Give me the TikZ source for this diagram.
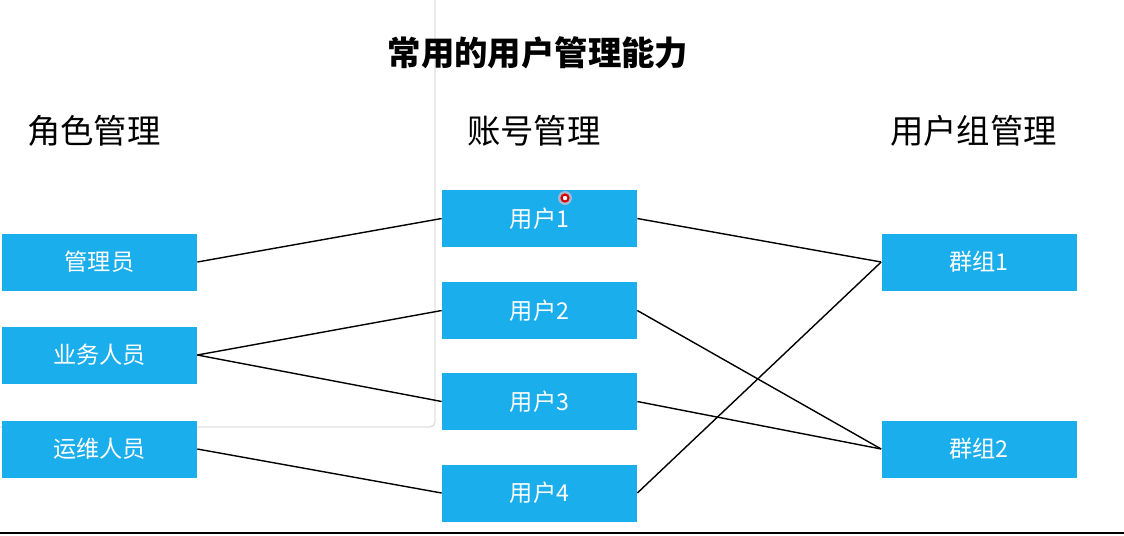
\documentclass[tikz,border=0pt]{standalone}
\usepackage{fontspec}
\setmainfont{Noto Sans CJK SC}
\usetikzlibrary{positioning}

\begin{document}
\begin{tikzpicture}[
    x=0.02cm, y=-0.02cm,
    box/.style={rectangle, fill=boxblue, draw=none, minimum width=3.9cm, minimum height=1.14cm, inner sep=0pt, text=white, font=\fontsize{13.2}{15}\selectfont},
    head/.style={font=\fontsize{19}{22}\selectfont, anchor=west},
    link/.style={draw=black, line width=0.8pt},
]
\definecolor{boxblue}{HTML}{1BAEEC}
\useasboundingbox (0,0) rectangle (1124,535);

% Panel behind the roles
\draw[black!12, line width=0.8pt, rounded corners=3pt] (0,427) -- (435,427) -- (435,0);

% Title and column headings
\node[font=\fontsize{19}{22}\selectfont\bfseries] (title) at (538,53) {常用的用户管理能力};
\node[head] (rolehead) at (21,131) {角色管理};
\node[head] (accthead) at (461,131) {账号管理};
\node[head] (grouphead) at (884,131) {用户组管理};

% Roles
\node[box] (admin) at (99.5,262) {管理员};
\node[box] (biz) at (99.5,355) {业务人员};
\node[box] (ops) at (99.5,449) {运维人员};

% Accounts
\node[box] (user1) at (539.5,218.5) {用户1};
\node[box] (user2) at (539.5,310.5) {用户2};
\node[box] (user3) at (539.5,401.5) {用户3};
\node[box] (user4) at (539.5,493) {用户4};

% Groups
\node[box] (group1) at (979,262) {群组1};
\node[box] (group2) at (979,449) {群组2};

% Roles to accounts
\draw[link] (admin.east) -- (user1.west);
\draw[link] (biz.east) -- (user2.west);
\draw[link] (biz.east) -- (user3.west);
\draw[link] (ops.east) -- (user4.west);

% Accounts to groups
\draw[link] (user1.east) -- (group1.west);
\draw[link] (user2.east) -- (group2.west);
\draw[link] (user3.east) -- (group2.west);
\draw[link] (user4.east) -- (group1.west);

% Pointer mark
\fill[red!25, opacity=0.6] (565,198) circle (7);
\draw[red!85!black, fill=white, line width=1.2pt] (565,198) circle (3.5);

% Bottom edge
\draw[black, line width=1.6pt] (0,533) -- (1124,533);
\end{tikzpicture}
\end{document}
